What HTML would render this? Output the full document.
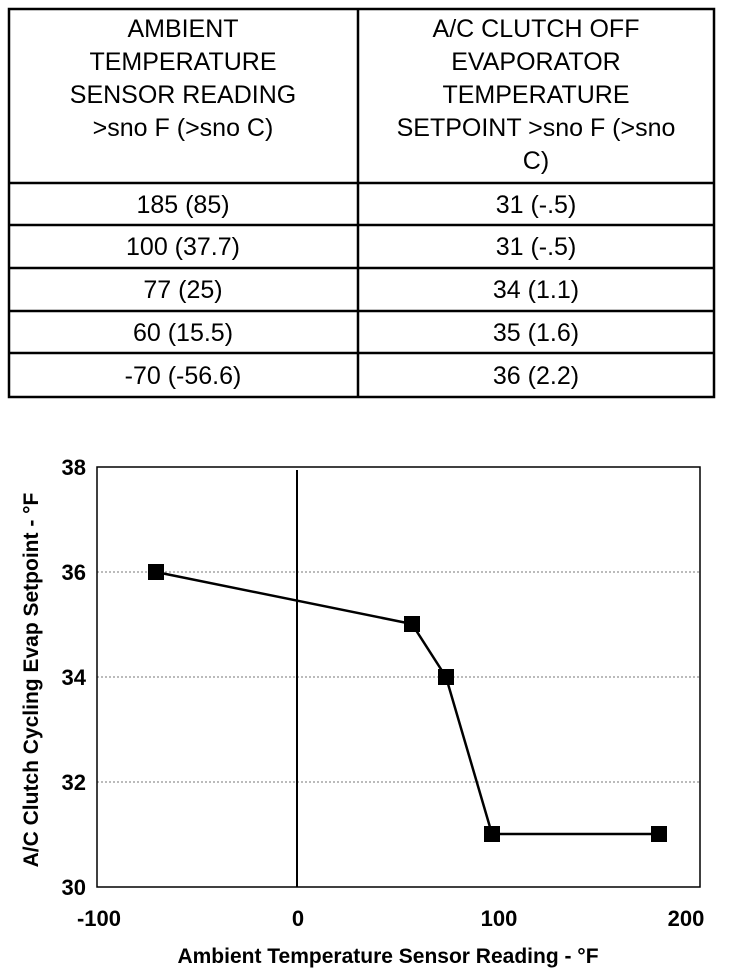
<!DOCTYPE html>
<html><head><style>
body{margin:0;background:#fff;width:736px;height:970px;overflow:hidden;font-family:"Liberation Sans",Arial,sans-serif}
</style></head><body>
<svg width="736" height="970" xmlns="http://www.w3.org/2000/svg" font-family="Liberation Sans, Arial, sans-serif">
<g stroke="#000" stroke-width="2.5" fill="none">
<rect x="9" y="9" width="705" height="388"/>
<line x1="358" y1="9" x2="358" y2="397"/>
<line x1="9" y1="183" x2="714" y2="183"/>
<line x1="9" y1="225" x2="714" y2="225"/>
<line x1="9" y1="268" x2="714" y2="268"/>
<line x1="9" y1="311" x2="714" y2="311"/>
<line x1="9" y1="353" x2="714" y2="353"/>
</g>
<g font-size="25" text-anchor="middle" fill="#000">
<text x="183" y="37">AMBIENT</text>
<text x="183" y="70">TEMPERATURE</text>
<text x="183" y="103">SENSOR READING</text>
<text x="183" y="136">&gt;sno F (&gt;sno C)</text>
<text x="536" y="37">A/C CLUTCH OFF</text>
<text x="536" y="70">EVAPORATOR</text>
<text x="536" y="103">TEMPERATURE</text>
<text x="536" y="136">SETPOINT &gt;sno F (&gt;sno</text>
<text x="536" y="169">C)</text>
<text x="183" y="213">185 (85)</text><text x="536" y="213">31 (-.5)</text>
<text x="183" y="255">100 (37.7)</text><text x="536" y="255">31 (-.5)</text>
<text x="183" y="298">77 (25)</text><text x="536" y="298">34 (1.1)</text>
<text x="183" y="341">60 (15.5)</text><text x="536" y="341">35 (1.6)</text>
<text x="183" y="384">-70 (-56.6)</text><text x="536" y="384">36 (2.2)</text>
</g>
<g stroke="#777" stroke-width="1" stroke-dasharray="2,2">
<line x1="97" y1="572" x2="700" y2="572"/>
<line x1="97" y1="677" x2="700" y2="677"/>
<line x1="97" y1="782" x2="700" y2="782"/>
</g>
<rect x="97" y="467" width="603" height="420" fill="none" stroke="#000" stroke-width="1.5"/>
<line x1="297" y1="470" x2="297" y2="887" stroke="#000" stroke-width="2"/>
<polyline points="156,572 412,624 446,677 492,834 659,834" fill="none" stroke="#000" stroke-width="2.5"/>
<g fill="#000">
<rect x="148" y="564" width="16" height="16"/>
<rect x="404" y="616" width="16" height="16"/>
<rect x="438" y="669" width="16" height="16"/>
<rect x="484" y="826" width="16" height="16"/>
<rect x="651" y="826" width="16" height="16"/>
</g>
<g font-size="22" font-weight="bold" text-anchor="end">
<text x="86" y="475">38</text>
<text x="86" y="580">36</text>
<text x="86" y="685">34</text>
<text x="86" y="790">32</text>
<text x="86" y="895">30</text>
</g>
<g font-size="22" font-weight="bold" text-anchor="middle">
<text x="99" y="926">-100</text>
<text x="298" y="926">0</text>
<text x="499" y="926">100</text>
<text x="686" y="926">200</text>
<text x="388" y="963" font-size="21">Ambient Temperature Sensor Reading - °F</text>
<text transform="translate(38,680) rotate(-90)" font-size="21">A/C Clutch Cycling Evap Setpoint - °F</text>
</g>
</svg>
</body></html>
